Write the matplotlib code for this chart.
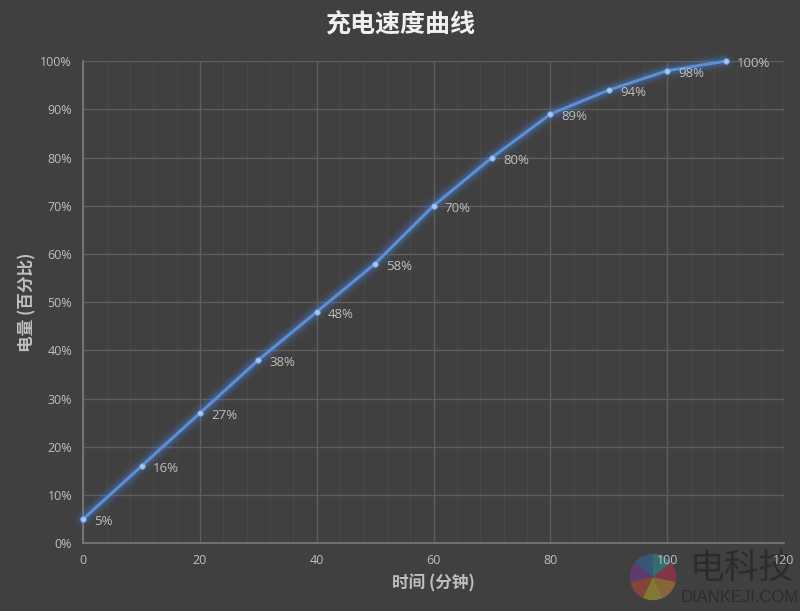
import matplotlib
matplotlib.use("Agg")
import matplotlib.pyplot as plt
from matplotlib.ticker import MultipleLocator, PercentFormatter

# data
minutes = [0, 10, 20, 30, 40, 50, 60, 70, 80, 90, 100, 110]
charge = [5, 16, 27, 38, 48, 58, 70, 80, 89, 94, 98, 100]
x_ticks = [0, 20, 40, 60, 80, 100, 120]
y_ticks = [0, 10, 20, 30, 40, 50, 60, 70, 80, 90, 100]

title = "充电速度曲线"
x_label = "时间 (分钟)"
y_label = "电量 (百分比)"

plt.rcParams['font.family'] = ['Open Sans', 'Noto Sans CJK SC', 'DejaVu Sans']
cjk = ['Noto Sans CJK SC', 'DejaVu Sans']

bg = '#404040'
txt = '#bfbfbf'
line_c = '#5b8fd6'

fig = plt.figure(figsize=(8, 6.11), dpi=100, facecolor=bg)

# watermark logo + text, drawn below the chart
logo = fig.add_axes([624 / 800, 5 / 611, 58 / 800, 58 / 611], zorder=-2)
logo.pie([1] * 7, colors=['#2a9b9b', '#c0304a', '#d08a30', '#c8b030',
                          '#c84a30', '#7a3a9a', '#2f6fb0'],
         startangle=90, counterclock=False, wedgeprops={'alpha': 0.5, 'lw': 0})
logo.set_aspect('equal')
logo.axis('off')
logo.patch.set_alpha(0)
fig.text(742 / 800, 1 - 568 / 611, "电科技", ha='center', va='center', fontsize=25,
         color='#2c2c2c', family=cjk, zorder=-2)
fig.text(740 / 800, 1 - 598 / 611, "DIANKEJI.COM", ha='center', va='center', fontsize=12,
         color='#2c2c2c', family=['Liberation Sans', 'DejaVu Sans'], zorder=-2)

ax = fig.add_axes([0.104, 0.111, 0.876, 0.789], facecolor=bg)

ax.set_xlim(0, 120)
ax.set_ylim(0, 100)
ax.set_xticks(x_ticks)
ax.set_yticks(y_ticks)
ax.xaxis.set_minor_locator(MultipleLocator(4))
ax.yaxis.set_major_formatter(PercentFormatter(decimals=0))

ax.grid(which='major', color='#5e5e5e', lw=1.0)
ax.grid(which='minor', axis='x', color='#484848', lw=0.8)
ax.set_axisbelow(True)

for side in ['top', 'right']:
    ax.spines[side].set_visible(False)
for side in ['left', 'bottom']:
    ax.spines[side].set_color('#7a7a7a')
    ax.spines[side].set_linewidth(1.2)

ax.tick_params(which='both', length=0, colors=txt, labelsize=9, pad=8)

# glow under the line
for lw, a in [(13, 0.05), (9, 0.09), (6, 0.16)]:
    ax.plot(minutes, charge, color='#4d90ff', lw=lw, alpha=a,
            solid_capstyle='round', solid_joinstyle='round', clip_on=False)
ax.plot(minutes, charge, color=line_c, lw=2.2, solid_joinstyle='round',
        clip_on=False, zorder=3)
ax.plot(minutes, charge, 'o', ms=4, color='#a6c8f0', mec='#6f9fe0', mew=0.6,
        clip_on=False, zorder=4)

for x, y in zip(minutes, charge):
    ax.annotate(f"{y}%", (x, y), xytext=(8, -2), textcoords='offset points',
                color=txt, fontsize=9.5, va='center', ha='left')

fig.text(0.5, 0.958, title, ha='center', va='center', fontsize=18,
         fontweight='bold', color='#f0f0f0', family=cjk)
ax.set_xlabel(x_label, fontsize=12, fontweight='bold', color=txt,
              family=cjk, labelpad=5)
ax.set_ylabel(y_label, fontsize=12, fontweight='bold', color=txt,
              family=cjk, labelpad=3)

fig.savefig('out.png', dpi=100, facecolor=bg)
